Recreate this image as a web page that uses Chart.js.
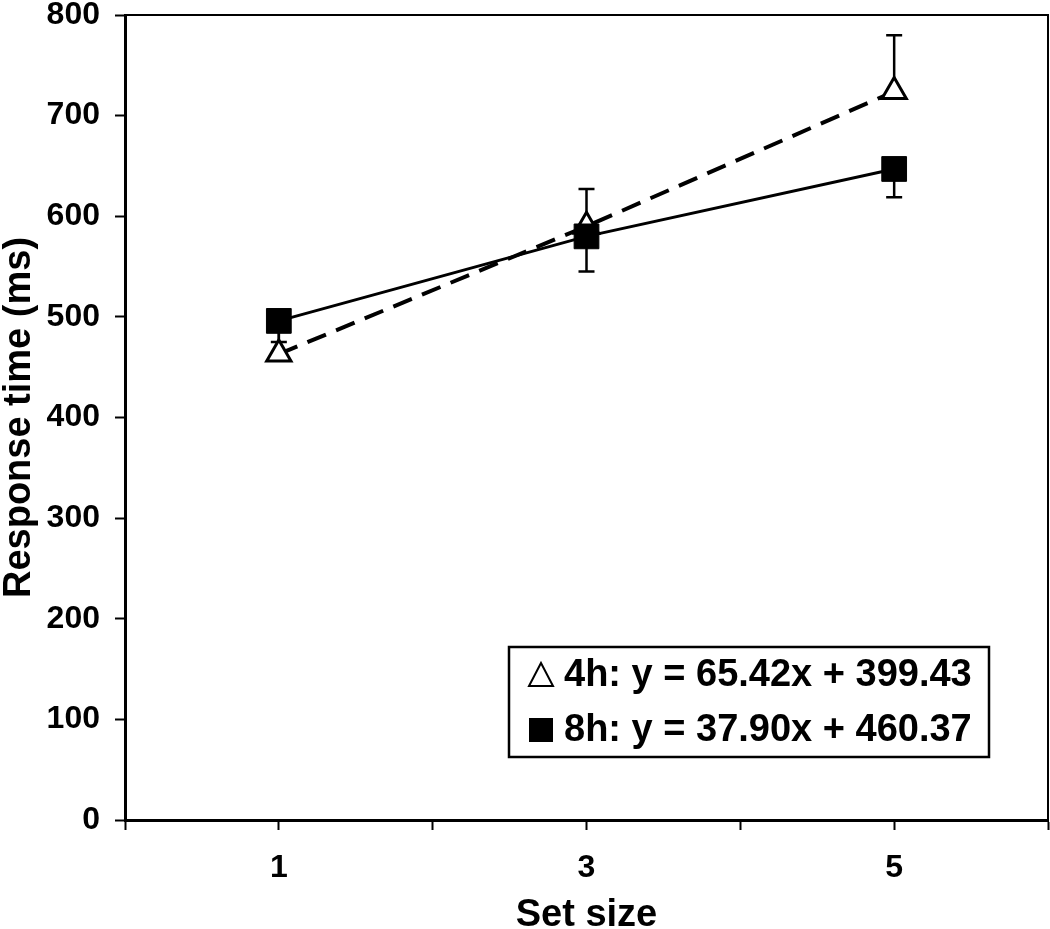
<!DOCTYPE html>
<html><head><meta charset="utf-8">
<script src="https://cdn.jsdelivr.net/npm/chart.js@4.4.1/dist/chart.umd.min.js"></script>
<style>html,body{margin:0;padding:0;background:#fff}#wrap{width:1050px;height:929px}</style>
</head><body><div id="wrap"><canvas id="c" width="1050" height="929"></canvas></div>
<script>
// ---- data ----
const setSizes = [1, 3, 5];
const xTickLabels = {1: '1', 3: '3', 5: '5'};
const seriesNames = ['4h', '8h'];
const rt4h = [463, 590, 724];
const rt8h = [496, 580, 647];
const err4hUpper = [490, 627, 780];   // top end of 4h error bars
const err8hLower = [475, 545, 619];   // bottom end of 8h error bars
const legendLines = ['4h: y = 65.42x + 399.43', '8h: y = 37.90x + 460.37'];
const yMin = 0, yMax = 800, yStep = 100;
const xMin = 0, xMax = 6;
const xTitle = 'Set size';
const yTitle = 'Response time (ms)';

const FONT = "'Liberation Sans', Arial, sans-serif";

const errorBars = {
  id: 'errorBars',
  beforeDatasetsDraw(chart) {
    const {ctx, scales: {x, y}} = chart;
    ctx.save();
    ctx.strokeStyle = '#000';
    ctx.lineWidth = 2.5;
    const draw = (vals, ends) => {
      vals.forEach((v, i) => {
        const px = x.getPixelForValue(setSizes[i]);
        const py = y.getPixelForValue(v);
        const pe = y.getPixelForValue(ends[i]);
        ctx.beginPath();
        ctx.moveTo(px, py); ctx.lineTo(px, pe);
        ctx.moveTo(px - 8, pe); ctx.lineTo(px + 8, pe);
        ctx.stroke();
      });
    };
    draw(rt4h, err4hUpper);
    draw(rt8h, err8hLower);
    ctx.restore();
  }
};

const frame = {
  id: 'frame',
  beforeDatasetsDraw(chart) {
    const {ctx, chartArea: a} = chart;
    ctx.save();
    ctx.strokeStyle = '#000';
    ctx.lineWidth = 2;
    ctx.beginPath();
    ctx.moveTo(a.left, a.top); ctx.lineTo(a.right, a.top); ctx.lineTo(a.right, a.bottom);
    ctx.stroke();
    ctx.restore();
  }
};

const eqLegend = {
  id: 'eqLegend',
  afterDraw(chart) {
    const {ctx, chartArea: a} = chart;
    const bx = a.left + 384, by = a.top + 632, bw = 480, bh = 110;
    ctx.save();
    ctx.fillStyle = '#fff';
    ctx.fillRect(bx, by, bw, bh);
    ctx.strokeStyle = '#000';
    ctx.lineWidth = 2.5;
    ctx.strokeRect(bx, by, bw, bh);
    ctx.font = 'bold 38px ' + FONT;
    ctx.fillStyle = '#000';
    ctx.textBaseline = 'middle';
    ctx.textAlign = 'left';
    const rows = [by + 28, by + 83];
    const sx = bx + 32;
    ctx.lineWidth = 2;
    ctx.beginPath();
    ctx.moveTo(sx, rows[0] - 12); ctx.lineTo(sx + 12, rows[0] + 11); ctx.lineTo(sx - 12, rows[0] + 11); ctx.closePath();
    ctx.stroke();
    ctx.fillRect(sx - 12, rows[1] - 12, 24, 24);
    legendLines.forEach((t, i) => ctx.fillText(t, bx + 55, rows[i] + 1));
    ctx.restore();
  }
};

new Chart(document.getElementById('c'), {
  type: 'line',
  data: {
    datasets: [
      {
        label: seriesNames[1],
        data: setSizes.map((s, i) => ({x: s, y: rt8h[i]})),
        borderColor: '#000', borderWidth: 3,
        pointStyle: 'rect', pointRadius: 17.5, pointBackgroundColor: '#000',
        pointBorderColor: '#000', pointBorderWidth: 1, tension: 0
      },
      {
        label: seriesNames[0],
        data: setSizes.map((s, i) => ({x: s, y: rt4h[i]})),
        borderColor: '#000', borderWidth: 4, borderDash: [20, 11],
        pointStyle: 'triangle', pointRadius: 14, pointBackgroundColor: '#fff',
        pointBorderColor: '#000', pointBorderWidth: 3, tension: 0
      }
    ]
  },
  options: {
    responsive: false,
    animation: false,
    layout: {padding: 0, autoPadding: false},
    plugins: {legend: {display: false}, tooltip: {enabled: false}},
    scales: {
      x: {
        type: 'linear', min: xMin, max: xMax,
        afterFit(s) { s.height = 109; s.paddingLeft = 0; s.paddingRight = 2; },
        ticks: {
          stepSize: 1, autoSkip: false, padding: 1, color: '#000',
          font: {family: FONT, size: 32, weight: 'bold', lineHeight: 2.35},
          callback: v => xTickLabels[v] ?? ''
        },
        grid: {drawOnChartArea: false, drawTicks: true, tickLength: 10, tickColor: '#000', tickWidth: 2},
        border: {display: true, color: '#000', width: 3},
        title: {display: true, text: xTitle, color: '#000', padding: {top: 0, bottom: -6},
                font: {family: FONT, size: 38, weight: 'bold', lineHeight: 1}}
      },
      y: {
        min: yMin, max: yMax,
        afterFit(s) { s.width = 125; s.paddingTop = 15; s.paddingBottom = 0; },
        ticks: {stepSize: yStep, padding: 15, color: '#000',
                font: {family: FONT, size: 32, weight: 'bold'}},
        grid: {drawOnChartArea: false, drawTicks: true, tickLength: 10, tickColor: '#000', tickWidth: 2},
        border: {display: true, color: '#000', width: 3},
        title: {display: true, text: yTitle, color: '#000', padding: {top: 1, bottom: 0},
                font: {family: FONT, size: 38, weight: 'bold', lineHeight: 1}}
      }
    }
  },
  plugins: [errorBars, frame, eqLegend]
});
</script>
</body></html>
